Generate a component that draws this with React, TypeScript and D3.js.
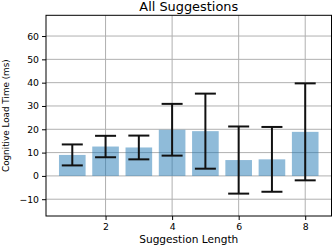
import React, { useEffect, useRef } from 'react';
import * as d3 from 'd3';

const lengths = [1, 2, 3, 4, 5, 6, 7, 8];
const means = [9.0, 12.6, 12.2, 19.8, 19.2, 6.8, 7.1, 18.9];
const errors = [4.5, 4.6, 5.1, 11.1, 16.1, 14.4, 13.9, 20.8];
const xTicks = [2, 4, 6, 8];
const yTicks = [-10, 0, 10, 20, 30, 40, 50, 60];

const W = 333;
const H = 245;

export default function App() {
  const ref = useRef<SVGSVGElement>(null);

  useEffect(() => {
    if (!ref.current) return;
    const svg = d3.select(ref.current);
    svg.selectAll('*').remove();

    const margin = { top: 15.3, right: 1.5, bottom: 29, left: 46 };
    const x = d3.scaleLinear().domain([0.21, 8.79]).range([margin.left, W - margin.right]);
    const y = d3.scaleLinear().domain([-17.2, 68.9]).range([H - margin.bottom, margin.top]);
    const font = 'DejaVu Sans, sans-serif';

    // grid
    const grid = svg.append('g').attr('stroke', '#b0b0b0').attr('stroke-width', 1);
    xTicks.forEach(t => {
      grid.append('line').attr('x1', x(t)).attr('x2', x(t)).attr('y1', y.range()[0]).attr('y2', y.range()[1]);
    });
    yTicks.forEach(t => {
      grid.append('line').attr('x1', x.range()[0]).attr('x2', x.range()[1]).attr('y1', y(t)).attr('y2', y(t));
    });

    // bars
    const bw = x(0.8) - x(0);
    svg.append('g')
      .selectAll('rect')
      .data(lengths)
      .enter()
      .append('rect')
      .attr('x', (d) => x(d) - bw / 2)
      .attr('width', bw)
      .attr('y', (d, i) => Math.min(y(means[i]), y(0)))
      .attr('height', (d, i) => Math.abs(y(0) - y(means[i])))
      .attr('fill', '#1f77b4')
      .attr('fill-opacity', 0.5);

    // error bars
    const eb = svg.append('g').attr('stroke', '#111').attr('stroke-width', 2);
    lengths.forEach((d, i) => {
      const cx = x(d);
      const lo = y(means[i] - errors[i]);
      const hi = y(means[i] + errors[i]);
      eb.append('line').attr('x1', cx).attr('x2', cx).attr('y1', lo).attr('y2', hi);
      eb.append('line').attr('x1', cx - 10.5).attr('x2', cx + 10.5).attr('y1', lo).attr('y2', lo);
      eb.append('line').attr('x1', cx - 10.5).attr('x2', cx + 10.5).attr('y1', hi).attr('y2', hi);
    });

    // axes
    const xAxis = svg.append('g')
      .attr('transform', `translate(0,${y.range()[0]})`)
      .call(d3.axisBottom(x).tickValues(xTicks).tickSize(4).tickPadding(3).tickFormat(d3.format('d')));
    const yAxis = svg.append('g')
      .attr('transform', `translate(${x.range()[0]},0)`)
      .call(d3.axisLeft(y).tickValues(yTicks).tickSize(4).tickPadding(3)
        .tickFormat(d => (+d < 0 ? '\u2212' + Math.abs(+d) : String(d))));
    [xAxis, yAxis].forEach(a => {
      a.select('.domain').remove();
      a.selectAll('text').attr('font-family', font).attr('font-size', 9.3).attr('fill', '#000');
      a.selectAll('line').attr('stroke', '#000');
    });

    // spines
    svg.append('rect')
      .attr('x', x.range()[0]).attr('y', y.range()[1])
      .attr('width', x.range()[1] - x.range()[0])
      .attr('height', y.range()[0] - y.range()[1])
      .attr('fill', 'none').attr('stroke', '#000').attr('stroke-width', 1);

    // labels
    svg.append('text')
      .attr('x', (x.range()[0] + x.range()[1]) / 2).attr('y', 11)
      .attr('text-anchor', 'middle').attr('font-family', font).attr('font-size', 12.9)
      .text('All Suggestions');
    svg.append('text')
      .attr('x', (x.range()[0] + x.range()[1]) / 2).attr('y', 243)
      .attr('text-anchor', 'middle').attr('font-family', font).attr('font-size', 10.6)
      .text('Suggestion Length');
    svg.append('text')
      .attr('transform', `translate(9,${(y.range()[0] + y.range()[1]) / 2}) rotate(-90)`)
      .attr('text-anchor', 'middle').attr('font-family', font).attr('font-size', 8.8)
      .text('Cognitive Load Time (ms)');
  }, []);

  return (
    <svg ref={ref} width={W} height={H}
      style={{ position: 'absolute', left: 0, top: 0, background: '#fff' }} />
  );
}
